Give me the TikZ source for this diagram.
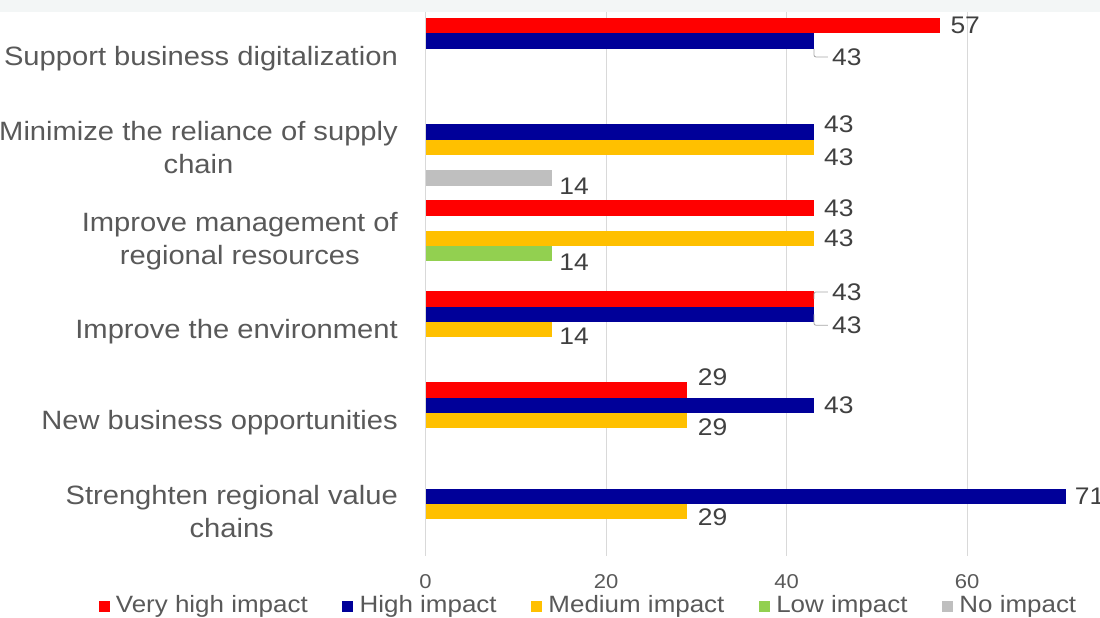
\documentclass[tikz,border=0pt]{standalone}
\usepackage{fontspec}
\setmainfont[FakeStretch=1.1]{Liberation Sans}
\usepackage{tikz}
\usetikzlibrary{positioning}
\definecolor{vhigh}{HTML}{FF0000}
\definecolor{high}{HTML}{000099}
\definecolor{medium}{HTML}{FFC000}
\definecolor{low}{HTML}{92D050}
\definecolor{noimp}{HTML}{BFBFBF}
\definecolor{gridc}{HTML}{D9D9D9}
\definecolor{labc}{HTML}{595959}
\definecolor{numc}{HTML}{404040}
\definecolor{bandc}{HTML}{F3F6F6}

\begin{document}
\begin{tikzpicture}[x=1pt, y=-1pt,
    impbar/.style={rectangle, anchor=west, inner sep=0pt, minimum height=15.3pt, minimum width=#1*9.025pt},
    cat/.style={anchor=east, align=center, inner sep=0pt, text=labc, font=\fontsize{26.5}{33}\selectfont},
    val/.style={inner sep=0pt, text=numc, font=\fontsize{24}{24}\selectfont},
    axtick/.style={inner sep=0pt, text=labc, font=\fontsize{20}{20}\selectfont},
    legkey/.style={rectangle, inner sep=0pt, minimum size=11pt},
    legtext/.style={inner sep=0pt, text=labc, yshift=-4pt, text height=0.72em, text depth=0.21em, font=\fontsize{23.6}{23.6}\selectfont},
    gridline/.style={draw=gridc, line width=1pt},
    leader/.style={draw=gray!70, line width=0.8pt, rounded corners=2pt, shorten >=4pt}]
  \useasboundingbox (0,0) rectangle (1100,618);
  \fill[bandc] (0,0) rectangle (1100,12);
  \draw[gridline] (425.5,12) -- (425.5,556);
  \draw[gridline] (606,12) -- (606,556);
  \draw[gridline] (786.5,12) -- (786.5,556);
  \draw[gridline] (967,12) -- (967,556);

  \node[axtick] (t0) at (425.5,582) {0};
  \node[axtick] (t20) at (606,582) {20};
  \node[axtick] (t40) at (786.5,582) {40};
  \node[axtick] (t60) at (967,582) {60};

  \node[cat] (sbd) at (398,59) {Support business digitalization};
  \node[cat] (mrs) at (398,147.4) {Minimize the reliance of supply\\chain};
  \node[cat] (imr) at (398,241.5) {Improve management of\\regional resources};
  \node[cat] (ienv) at (398,332) {Improve the environment};
  \node[cat] (nbo) at (398,423) {New business opportunities};
  \node[cat] (srv) at (398,511.5) {Strenghten regional value\\chains};

  \node[impbar=57, fill=vhigh] (sbd-vh) at (425.5,25.65) {};
  \node[impbar=43, fill=high] (sbd-h) at (425.5,40.95) {};
  \node[impbar=43, fill=high] (mrs-h) at (425.5,132.05) {};
  \node[impbar=43, fill=medium] (mrs-m) at (425.5,147.35) {};
  \node[impbar=14, fill=noimp] (mrs-n) at (425.5,177.95) {};
  \node[impbar=43, fill=vhigh] (imr-vh) at (425.5,207.85) {};
  \node[impbar=43, fill=medium] (imr-m) at (425.5,238.45) {};
  \node[impbar=14, fill=low] (imr-l) at (425.5,253.75) {};
  \node[impbar=43, fill=vhigh] (ienv-vh) at (425.5,298.95) {};
  \node[impbar=43, fill=high] (ienv-h) at (425.5,314.25) {};
  \node[impbar=14, fill=medium] (ienv-m) at (425.5,329.55) {};
  \node[impbar=29, fill=vhigh] (nbo-vh) at (425.5,390.05) {};
  \node[impbar=43, fill=high] (nbo-h) at (425.5,405.35) {};
  \node[impbar=29, fill=medium] (nbo-m) at (425.5,420.65) {};
  \node[impbar=71, fill=high] (srv-h) at (425.5,496.45) {};
  \node[impbar=29, fill=medium] (srv-m) at (425.5,511.75) {};

  \node[val, right=10pt of sbd-vh] (sbd-vh-v) {57};
  \node[val, right=18pt of sbd-h, yshift=-16pt] (sbd-h-v) {43};
  \node[val, right=10pt of mrs-h, yshift=8pt] (mrs-h-v) {43};
  \node[val, right=10pt of mrs-m, yshift=-9.5pt] (mrs-m-v) {43};
  \node[val, right=7pt of mrs-n, yshift=-8pt] (mrs-n-v) {14};
  \node[val, right=10pt of imr-vh] (imr-vh-v) {43};
  \node[val, right=10pt of imr-m] (imr-m-v) {43};
  \node[val, right=7pt of imr-l, yshift=-8pt] (imr-l-v) {14};
  \node[val, right=18pt of ienv-vh, yshift=7pt] (ienv-vh-v) {43};
  \node[val, right=18pt of ienv-h, yshift=-11pt] (ienv-h-v) {43};
  \node[val, right=7pt of ienv-m, yshift=-7pt] (ienv-m-v) {14};
  \node[val, right=10pt of nbo-vh, yshift=13pt] (nbo-vh-v) {29};
  \node[val, right=10pt of nbo-h] (nbo-h-v) {43};
  \node[val, right=10pt of nbo-m, yshift=-7pt] (nbo-m-v) {29};
  \node[val, right=8pt of srv-h] (srv-h-v) {71};
  \node[val, right=10pt of srv-m, yshift=-5pt] (srv-m-v) {29};

  \draw[leader] (sbd-h.south east) |- (sbd-h-v.west);
  \draw[leader] (ienv-vh.east) |- (ienv-vh-v.west);
  \draw[leader] (ienv-h.east) |- (ienv-h-v.west);

  \node[legkey, fill=vhigh] (k-vh) at (104,606) {};
  \node[legtext, right=6pt of k-vh] (l-vh) {Very high impact};
  \node[legkey, fill=high, right=34pt of l-vh, yshift=4pt] (k-h) {};
  \node[legtext, right=6pt of k-h] (l-h) {High impact};
  \node[legkey, fill=medium, right=34pt of l-h, yshift=4pt] (k-m) {};
  \node[legtext, right=6pt of k-m] (l-m) {Medium impact};
  \node[legkey, fill=low, right=34pt of l-m, yshift=4pt] (k-l) {};
  \node[legtext, right=6pt of k-l] (l-l) {Low impact};
  \node[legkey, fill=noimp, right=34pt of l-l, yshift=4pt] (k-n) {};
  \node[legtext, right=6pt of k-n] (l-n) {No impact};
\end{tikzpicture}
\end{document}
